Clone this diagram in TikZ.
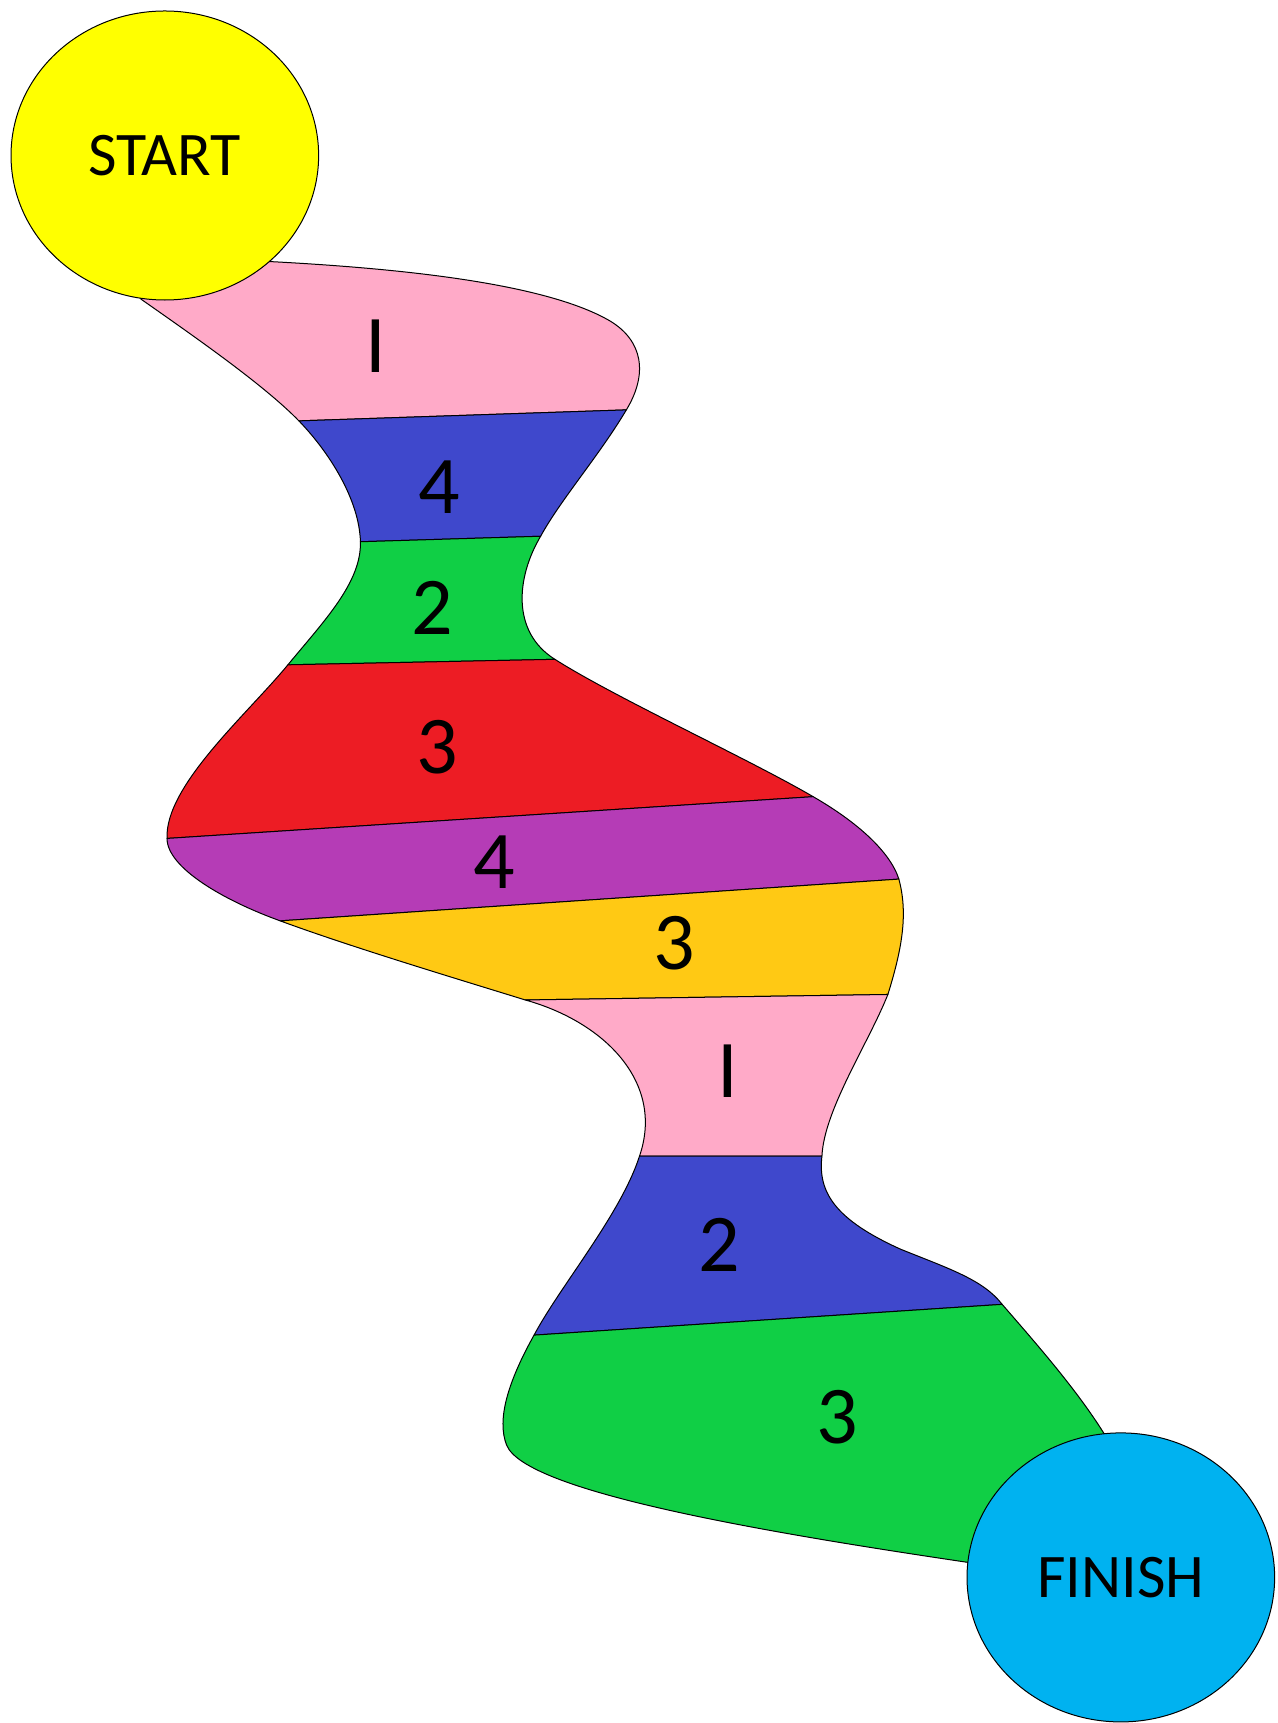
\documentclass[tikz,border=0pt]{standalone}
\usepackage{fontspec}
\setmainfont{Carlito}
\usetikzlibrary{shapes.geometric}
\definecolor{cpink}{RGB}{255,170,200}
\definecolor{cblue}{RGB}{63,72,204}
\definecolor{cgreen}{RGB}{16,207,69}
\definecolor{cred}{RGB}{237,28,36}
\definecolor{cpurple}{RGB}{181,60,182}
\definecolor{cgold}{RGB}{255,201,20}
\definecolor{cyel}{RGB}{255,255,0}
\definecolor{ccyan}{RGB}{0,178,240}
\begin{document}
\begin{tikzpicture}[x=0.5494pt,y=-0.5494pt,
  band/.style={draw=black,line width=0.5pt,line join=round},
  num/.style={font=\fontsize{41}{41}\selectfont,inner sep=0pt},
  goal/.style={ellipse,draw=black,line width=0.5pt,minimum width=153.8pt,minimum height=144.5pt,inner sep=0pt,font=\fontsize{31}{31}\selectfont}]
\useasboundingbox (0,0) rectangle (1163,1568);
% left boundary points
\coordinate (L0) at (128,272);
\coordinate (L1) at (272,383);
\coordinate (L2) at (328,493);
\coordinate (L3) at (262,605);
\coordinate (L4) at (152,763);
\coordinate (L5) at (255,838);
\coordinate (L6) at (478,910);
\coordinate (L7) at (582,1052);
\coordinate (L8) at (486,1215);
\coordinate (L9) at (882,1422);
% right boundary points
\coordinate (R0) at (245,238);
\coordinate (R1) at (570,373);
\coordinate (R2) at (492,488);
\coordinate (R3) at (505,600);
\coordinate (R4) at (740,725);
\coordinate (R5) at (818,800);
\coordinate (R6) at (808,905);
\coordinate (R7) at (748,1052);
\coordinate (R8) at (912,1187);
\coordinate (R9) at (1005,1305);
% bands
\path[band,fill=cpink] (L0) .. controls (175,305) and (240,350) .. (L1) -- (R1)
  .. controls (590,340) and (585,310) .. (555,292)
  .. controls (500,260) and (380,245) .. (R0) -- (150,200) -- cycle;
\path[band,fill=cblue] (L1) .. controls (300,412) and (327,455) .. (L2) -- (R2)
  .. controls (510,455) and (545,415) .. (R1) -- cycle;
\path[band,fill=cgreen] (L2) .. controls (329,530) and (295,565) .. (L3) -- (R3)
  .. controls (465,575) and (470,525) .. (R2) -- cycle;
\path[band,fill=cred] (L3) .. controls (225,650) and (150,715) .. (L4) -- (R4)
  .. controls (680,690) and (560,635) .. (R3) -- cycle;
\path[band,fill=cpurple] (L4) .. controls (152,790) and (205,820) .. (L5) -- (R5)
  .. controls (810,775) and (780,748) .. (R4) -- cycle;
\path[band,fill=cgold] (L5) .. controls (320,862) and (420,892) .. (L6) -- (R6)
  .. controls (822,860) and (826,830) .. (R5) -- cycle;
\path[band,fill=cpink] (L6) .. controls (550,930) and (605,985) .. (L7) -- (R7)
  .. controls (750,1010) and (790,950) .. (R6) -- cycle;
\path[band,fill=cblue] (L7) .. controls (565,1105) and (510,1170) .. (L8) -- (R8)
  .. controls (895,1165) and (865,1155) .. (820,1137)
  .. controls (760,1110) and (744,1085) .. (R7) -- cycle;
\path[band,fill=cgreen] (L8) .. controls (462,1258) and (452,1292) .. (461,1315)
  .. controls (478,1358) and (700,1395) .. (L9) -- (R9)
  .. controls (980,1265) and (945,1225) .. (R8) -- cycle;
% labels
\node[num] (n1) at (342,315) {I};
\node[num] (n2) at (400,443) {4};
\node[num] (n3) at (393,553) {2};
\node[num] (n4) at (398,680) {3};
\node[num] (n5) at (450,785) {4};
\node[num] (n6) at (614,858) {3};
\node[num] (n7) at (662,975) {I};
\node[num] (n8) at (655,1133) {2};
\node[num] (n9) at (762,1290) {3};
% start and finish
\node[goal,fill=cyel] (start) at (150,141.5) {START};
\node[goal,fill=ccyan] (finish) at (1020,1435.5) {FINISH};
\end{tikzpicture}
\end{document}
